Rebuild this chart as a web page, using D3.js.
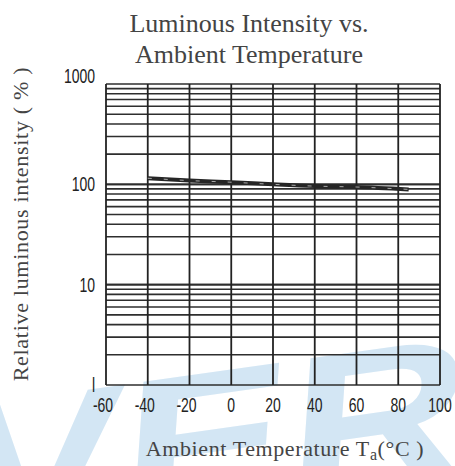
<!DOCTYPE html>
<html>
<head>
<meta charset="utf-8">
<script src="https://cdn.jsdelivr.net/npm/d3@7.9.0/dist/d3.min.js"></script>
<style>
  body { margin: 0; background: #fff; }
  svg { display: block; }
</style>
</head>
<body>
<div id="chart"></div>
<script>
// Luminous intensity vs ambient temperature (log scale)
const temps = [-40, -20, 0, 20, 40, 60, 85];
const intensity = [115, 109, 105, 100, 96, 94, 89];

const xTicks = [-60, -40, -20, 0, 20, 40, 60, 80, 100];
const yTicks = [1, 10, 100, 1000];
const yTickLabels = ["l", "10", "100", "1000"];

const serif = "Liberation Serif";

const svg = d3.select("#chart")
  .append("svg")
  .attr("width", 455)
  .attr("height", 466);

// watermark behind the chart
svg.append("text")
  .attr("x", 0)
  .attr("y", 0)
  .attr("fill", "#d3e6f4")
  .attr("font-family", "Liberation Sans")
  .attr("font-weight", "bold")
  .attr("font-size", 200)
  .attr("textLength", 590)
  .attr("lengthAdjust", "spacingAndGlyphs")
  .attr("transform", "translate(-50,548) rotate(-8) skewX(-12)")
  .text("VERI");

const x = d3.scaleLinear().domain([-60, 100]).range([106, 440]);
const y = d3.scaleLog().domain([1, 1000]).range([385, 84]);

// horizontal log grid
const minor = [];
for (let p = 0; p < 3; p++) {
  for (let k = 1; k <= 10; k++) minor.push(k * Math.pow(10, p));
}
svg.append("g")
  .selectAll("line")
  .data(minor)
  .join("line")
  .attr("x1", x(-60))
  .attr("x2", x(100))
  .attr("y1", (d) => y(d))
  .attr("y2", (d) => y(d))
  .attr("stroke", "#2e2e2e")
  .attr("stroke-width", 1.6);

// vertical grid
svg.append("g")
  .selectAll("line")
  .data(xTicks)
  .join("line")
  .attr("x1", (d) => x(d))
  .attr("x2", (d) => x(d))
  .attr("y1", y(1000))
  .attr("y2", y(1))
  .attr("stroke", "#222")
  .attr("stroke-width", 1.8);

// curve
const line = d3.line()
  .x((d, i) => x(temps[i]))
  .y((d) => y(d))
  .curve(d3.curveMonotoneX);

svg.append("path")
  .datum(intensity)
  .attr("d", line)
  .attr("fill", "none")
  .attr("stroke", "#262626")
  .attr("stroke-width", 4);
svg.append("path")
  .datum(intensity)
  .attr("d", line)
  .attr("fill", "none")
  .attr("stroke", "#fff")
  .attr("stroke-opacity", 0.6)
  .attr("stroke-width", 1)
  .attr("stroke-dasharray", "4 12");

// tick labels (narrow digits)
svg.append("g")
  .selectAll("text")
  .data(yTicks)
  .join("text")
  .attr("transform", (d) => `translate(95,${y(d) + (d === 1000 ? -1 : 7)}) scale(0.7,1)`)
  .attr("text-anchor", "end")
  .attr("font-family", "Liberation Sans")
  .attr("font-size", 20)
  .attr("fill", "#222")
  .text((d, i) => yTickLabels[i]);

svg.append("g")
  .selectAll("text")
  .data(xTicks)
  .join("text")
  .attr("transform", (d) => `translate(${x(d) - (d < 0 ? 3 : 0)},412) scale(0.7,1)`)
  .attr("text-anchor", "middle")
  .attr("font-family", "Liberation Sans")
  .attr("font-size", 20)
  .attr("fill", "#222")
  .text((d) => (d < 0 ? "-" + Math.abs(d) : d));

// chart title
svg.append("text")
  .attr("x", 249).attr("y", 32)
  .attr("text-anchor", "middle")
  .attr("font-family", serif)
  .attr("font-size", 26)
  .attr("fill", "#444")
  .text("Luminous Intensity vs.");
svg.append("text")
  .attr("x", 249).attr("y", 63)
  .attr("text-anchor", "middle")
  .attr("font-family", serif)
  .attr("font-size", 26)
  .attr("fill", "#444")
  .text("Ambient Temperature");

// axis titles
svg.append("text")
  .attr("transform", "translate(28,224) rotate(-90)")
  .attr("text-anchor", "middle")
  .attr("font-family", serif)
  .attr("font-size", 22)
  .attr("letter-spacing", 0.7)
  .attr("fill", "#444")
  .text("Relative luminous intensity ( % )");

const xl = svg.append("text")
  .attr("x", 285).attr("y", 456)
  .attr("text-anchor", "middle")
  .attr("font-family", serif)
  .attr("font-size", 22)
  .attr("letter-spacing", 0.6)
  .attr("fill", "#444");
xl.append("tspan").text("Ambient Temperature T");
xl.append("tspan").attr("font-size", 16).attr("dy", 4).text("a");
xl.append("tspan").attr("dy", -4).text("(°C )");
</script>
</body>
</html>
